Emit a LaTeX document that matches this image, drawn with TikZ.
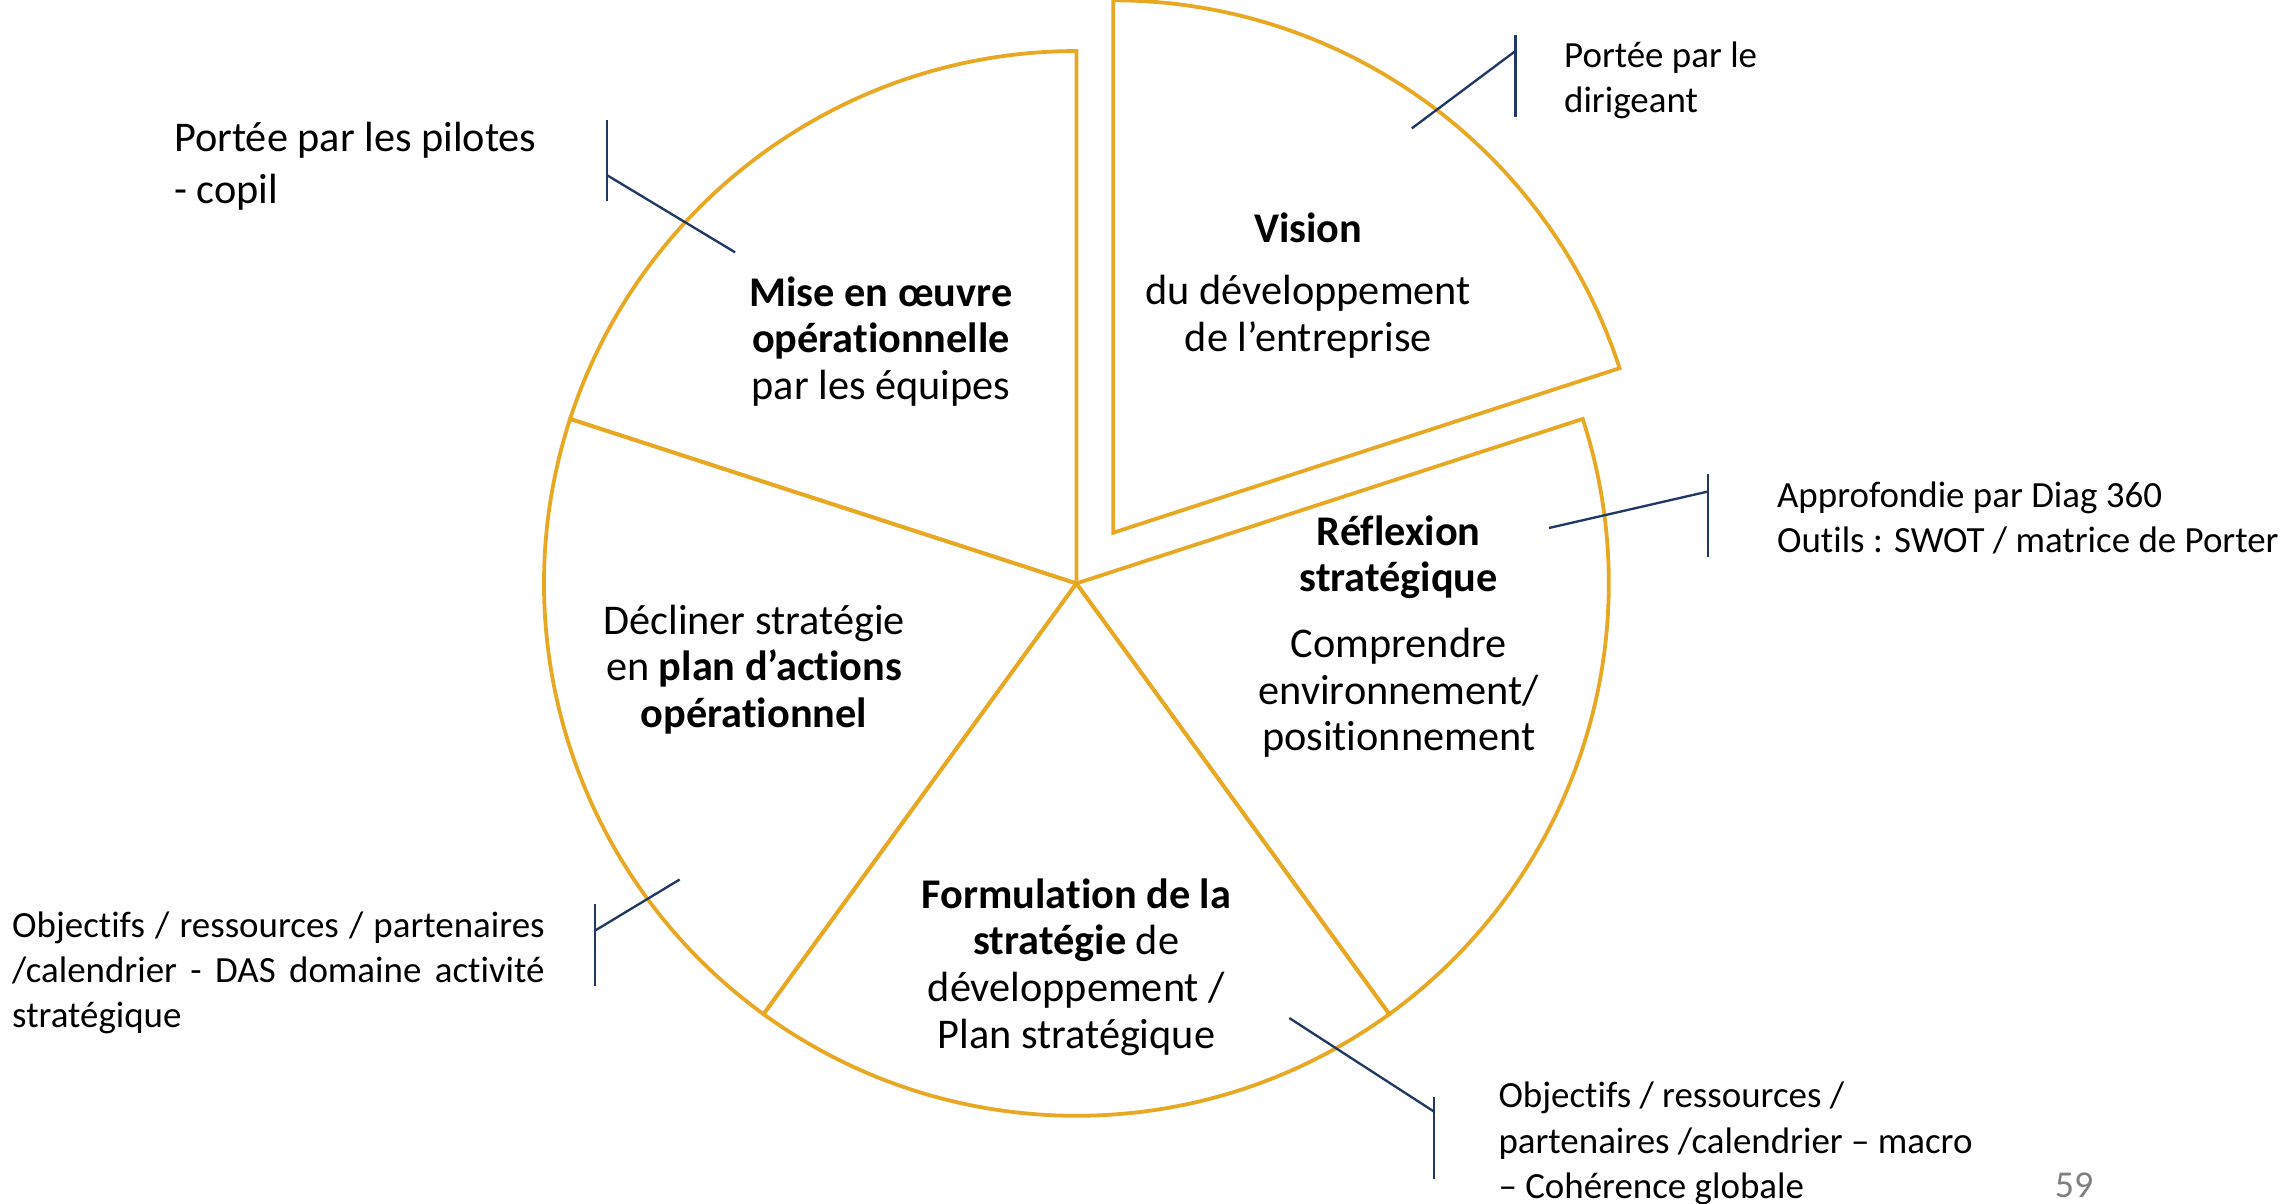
\documentclass[tikz,border=0pt]{standalone}
\usepackage{fontspec}
\setmainfont{Carlito}[Ligatures=CommonOff]
\definecolor{pieorange}{HTML}{E8A823}
\definecolor{leaderblue}{HTML}{1F3864}

\begin{document}
\begin{tikzpicture}[x=0.5pt, y=0.5pt,
    slice/.style={draw=pieorange, line width=1.3pt, line join=miter},
    leader/.style={draw=leaderblue, line width=0.8pt},
    pietext/.style={align=center, inner sep=0pt, font=\fontsize{14.5}{16}\selectfont},
    note/.style={align=left, anchor=west, inner sep=0pt, font=\fontsize{12.66}{15.5}\selectfont}]
    \useasboundingbox (-738,-425) rectangle (830,400);

    % the pie, Vision pulled out
    \coordinate (centre) at (0,0);
    \coordinate (apex) at (54:43);
    \draw [slice] (centre) -- (90:365) arc [start angle=90, end angle=162, radius=365] -- cycle;
    \draw [slice] (centre) -- (162:365) arc [start angle=162, end angle=234, radius=365] -- cycle;
    \draw [slice] (centre) -- (234:365) arc [start angle=234, end angle=306, radius=365] -- cycle;
    \draw [slice] (centre) -- (306:365) arc [start angle=306, end angle=378, radius=365] -- cycle;
    \draw [slice] (apex) -- ++(90:365) arc [start angle=90, end angle=18, radius=365] -- cycle;

    \node [pietext] (vision) at (159,244) {\textbf{Vision}};
    \node [pietext] (visiondesc) at (159,183) {du développement\\de l’entreprise};
    \node [pietext] (mise) at (-134,166) {\textbf{Mise en œuvre}\\\textbf{opérationnelle}\\par les équipes};
    \node [pietext] (reflexion) at (221,18) {\textbf{Réflexion}\\\textbf{stratégique}};
    \node [pietext] (reflexiondesc) at (221,-75) {Comprendre\\environnement/\\positionnement};
    \node [pietext] (decliner) at (-221,-59) {Décliner stratégie\\en \textbf{plan d’actions}\\\textbf{opérationnel}};
    \node [pietext] (formulation) at (0,-263) {\textbf{Formulation de la}\\\textbf{stratégie} de\\développement /\\Plan stratégique};

    % notes
    \node [note] (dirigeant) at (334,345) {Portée par le\\dirigeant};
    \node [note, font=\fontsize{14.5}{18}\selectfont] (pilotes) at (-619,286) {Portée par les pilotes\\- copil};
    \node [note] (diag) at (480,45) {Approfondie par Diag 360\\Outils : SWOT / matrice de Porter};
    \node [note, text width=182.5pt, align=justify] (plan) at (-730,-267) {Objectifs / ressources / partenaires /calendrier - DAS domaine activité stratégique};
    \node [note] (macro) at (289,-384) {Objectifs / ressources /\\partenaires /calendrier – macro\\– Cohérence globale};
    \node [text=gray, inner sep=0pt, font=\fontsize{13}{15.5}\selectfont] (page) at (684,-413) {59};

    % leaders
    \coordinate (b1) at (301,365);
    \coordinate (b2) at (-322,280);
    \coordinate (b3) at (433,63);
    \coordinate (b4) at (-330,-238);
    \coordinate (b5) at (245,-362);
    \draw [leader] (301,376) -- (301,320);
    \draw [leader] (b1) -- (230,312);
    \draw [leader] (-322,318) -- (-322,262);
    \draw [leader] (b2) -- (-234,227);
    \draw [leader] (433,75) -- (433,18);
    \draw [leader] (b3) -- (324,38);
    \draw [leader] (-330,-220) -- (-330,-276);
    \draw [leader] (b4) -- (-272,-203);
    \draw [leader] (245,-352) -- (245,-408);
    \draw [leader] (b5) -- (146,-298);
\end{tikzpicture}
\end{document}
